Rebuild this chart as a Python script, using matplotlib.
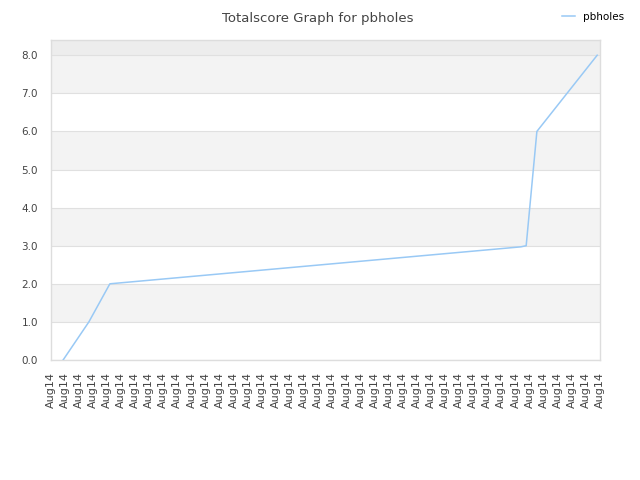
import matplotlib
matplotlib.use('Agg')
import matplotlib.pyplot as plt

# data (x in tick-step units, one tick per label)
x_pos = [0.89, 2.72, 4.21, 33.38, 33.76, 34.52, 38.8]
scores = [0.0, 1.0, 2.0, 2.97, 3.0, 6.0, 8.0]
tick_labels = ['Aug14'] * 40
y_ticks = [0, 1, 2, 3, 4, 5, 6, 7, 8]

fig = plt.figure(figsize=(6.4, 4.8), dpi=100)
ax = fig.add_axes([0.079, 0.25, 0.8585, 0.6667])

# alternating bands
for i in range(0, 9):
    if i % 2 == 1:
        ax.axhspan(i, i + 1, color='#f3f3f3', lw=0, zorder=0)
ax.axhspan(8, 8.4, color='#ededed', lw=0, zorder=0)
for y in y_ticks:
    ax.axhline(y, color='#e0e0e0', lw=0.8, zorder=1)

ax.plot(x_pos, scores, color='#99c9f5', lw=1.1, label='pbholes', zorder=3)

ax.set_xlim(0, 39)
ax.set_ylim(0, 8.4)
ax.set_xticks(range(len(tick_labels)))
ax.set_xticklabels(tick_labels, rotation=90, fontsize=8, color='#444444')
ax.set_yticks(y_ticks)
ax.set_yticklabels(['%.1f' % v for v in y_ticks], fontsize=7.5, color='#444444')
ax.tick_params(axis='both', length=0, pad=9)
for s in ax.spines.values():
    s.set_color('#dddddd')
    s.set_linewidth(1)

fig.text(0.497, 0.975, 'Totalscore Graph for pbholes', ha='center', va='top',
         fontsize=9.5, color='#444444')
fig.legend(loc='upper right', bbox_to_anchor=(0.99, 0.995), frameon=False,
           fontsize=7.5, handlelength=1.2, handletextpad=0.8)

fig.savefig('out.png', dpi=100)
